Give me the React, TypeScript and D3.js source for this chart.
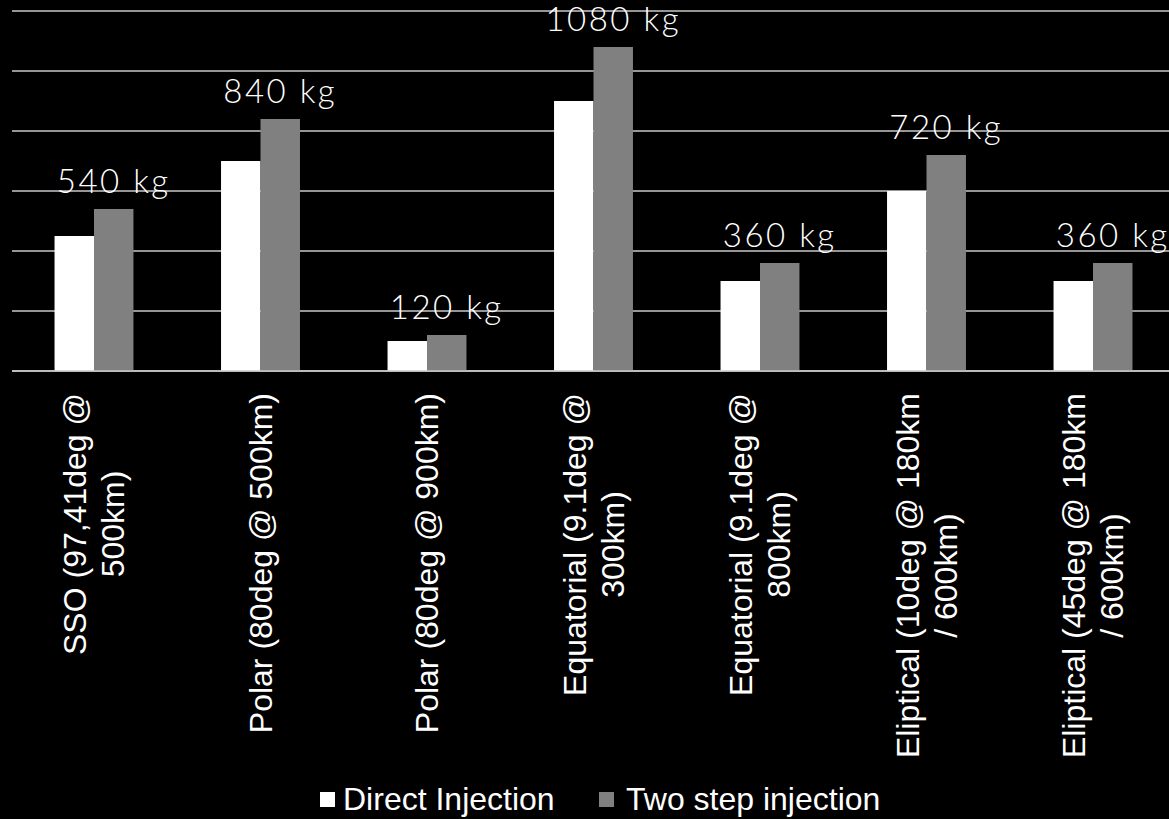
import React, { useEffect, useRef } from "react";
import * as d3 from "d3";

const categories: string[][] = [
  ["SSO (97,41deg @", "500km)"],
  ["Polar (80deg @ 500km)"],
  ["Polar (80deg @ 900km)"],
  ["Equatorial (9.1deg @", "300km)"],
  ["Equatorial (9.1deg @", "800km)"],
  ["Eliptical (10deg @ 180km", "/ 600km)"],
  ["Eliptical (45deg @ 180km", "/ 600km)"],
];
const directInjection = [450, 700, 100, 900, 300, 600, 300];
const twoStepInjection = [540, 840, 120, 1080, 360, 720, 360];
const seriesNames = ["Direct Injection", "Two step injection"];
const seriesColors = ["#ffffff", "#808080"];
const yTicks = [0, 200, 400, 600, 800, 1000, 1200];

const W = 1169;
const H = 819;

export default function App() {
  const ref = useRef<SVGSVGElement>(null);

  useEffect(() => {
    const svg = d3.select(ref.current);
    svg.selectAll("*").remove();

    svg.append("rect").attr("width", W).attr("height", H).attr("fill", "#000");

    const keys = categories.map((c) => c.join(" "));
    const x0 = d3
      .scaleBand<string>()
      .domain(keys)
      .range([10.75, 1176.25])
      .paddingInner(0.526)
      .paddingOuter(0.263);
    const x1 = d3
      .scaleBand<number>()
      .domain([0, 1])
      .range([0, x0.bandwidth()]);
    const y = d3.scaleLinear().domain([0, 1200]).range([371, 11]);

    // gridlines
    svg
      .append("g")
      .selectAll("line")
      .data(yTicks)
      .join("line")
      .attr("x1", 12)
      .attr("x2", W)
      .attr("y1", (d) => y(d))
      .attr("y2", (d) => y(d))
      .attr("stroke", "#c8c8c8")
      .attr("stroke-width", 1.5);

    const series = [directInjection, twoStepInjection];
    const g = svg.append("g");
    series.forEach((vals, si) => {
      g.append("g")
        .selectAll("rect")
        .data(vals)
        .join("rect")
        .attr("x", (_, i) => (x0(keys[i]) as number) + (x1(si) as number))
        .attr("width", x1.bandwidth())
        .attr("y", (d) => y(d))
        .attr("height", (d) => y(0) - y(d))
        .attr("fill", seriesColors[si]);
    });

    // baseline redraw over bars
    svg
      .append("line")
      .attr("x1", 12)
      .attr("x2", W)
      .attr("y1", y(0))
      .attr("y2", y(0))
      .attr("stroke", "#c8c8c8")
      .attr("stroke-width", 1.5);

    // value labels
    svg
      .append("g")
      .selectAll("text")
      .data(twoStepInjection)
      .join("text")
      .attr("x", (_, i) => (x0(keys[i]) as number) + (x1(1) as number) + x1.bandwidth() / 2)
      .attr("y", (d) => y(d) - 16)
      .attr("text-anchor", "middle")
      .attr("fill", "#ffffff")
      .attr("font-family", "Lato")
      .attr("font-weight", 300)
      .attr("font-size", 33)
      .attr("letter-spacing", 2.5)
      .text((d) => `${d} kg`);

    // category labels
    const labelTop = 393;
    const lineH = 38;
    categories.forEach((lines, i) => {
      const cx = (x0(keys[i]) as number) + x0.bandwidth() / 2;
      const grp = svg.append("g");
      const texts = lines.map((ln) =>
        grp
          .append("text")
          .attr("fill", "#ffffff")
          .attr("font-family", "'Liberation Sans', Arial, sans-serif")
          .attr("font-size", 32)
          .attr("text-anchor", "middle")
          .attr("dominant-baseline", "central")
          .text(ln)
      );
      const maxLen = d3.max(texts, (t) => (t.node() as SVGTextElement).getComputedTextLength()) || 0;
      const cy = labelTop + maxLen / 2;
      const n = lines.length;
      texts.forEach((t, li) => {
        const px = cx + (li - (n - 1) / 2) * lineH;
        t.attr("transform", `translate(${px},${cy}) rotate(-90)`);
      });
    });

    // legend
    const legendItems = [
      { x: 320, textX: 343 },
      { x: 599, textX: 626 },
    ];
    seriesNames.forEach((name, i) => {
      svg
        .append("rect")
        .attr("x", legendItems[i].x)
        .attr("y", 792)
        .attr("width", 15)
        .attr("height", 15)
        .attr("fill", seriesColors[i]);
      svg
        .append("text")
        .attr("x", legendItems[i].textX)
        .attr("y", 810)
        .attr("fill", "#ffffff")
        .attr("font-family", "'Liberation Sans', Arial, sans-serif")
        .attr("font-size", 32)
        .text(name);
    });
  }, []);

  return (
    <svg
      ref={ref}
      width={W}
      height={H}
      style={{ position: "absolute", left: 0, top: 0, display: "block" }}
    />
  );
}
